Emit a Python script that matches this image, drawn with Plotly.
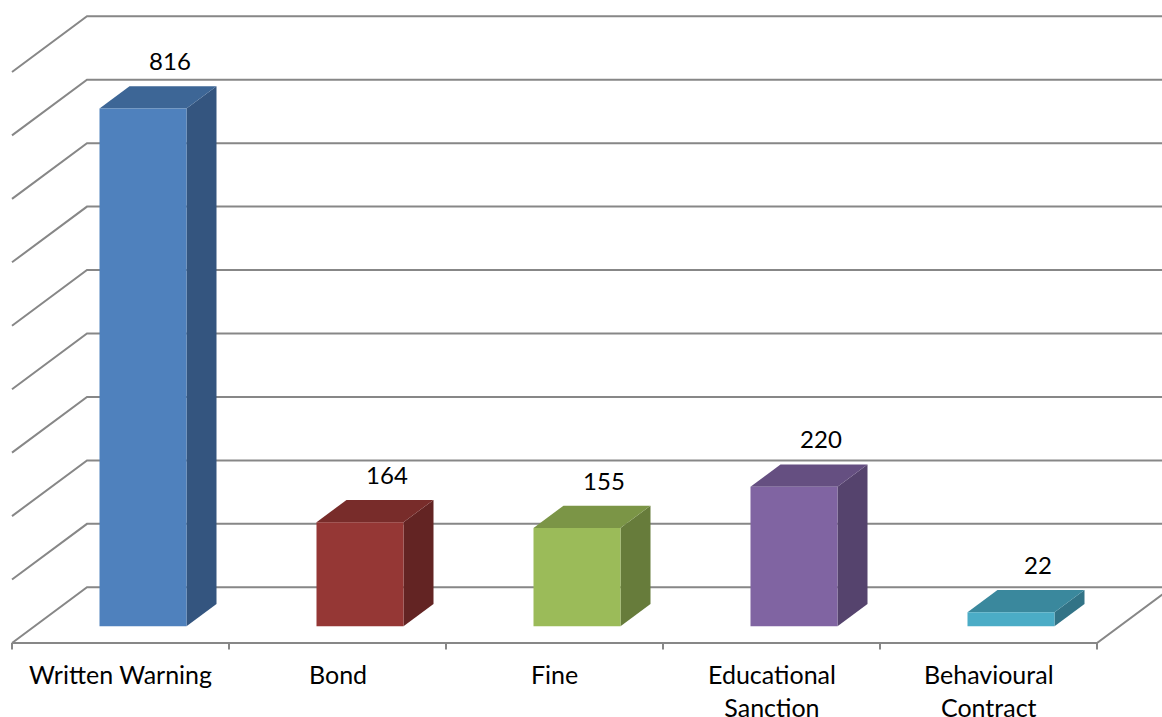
import plotly.graph_objects as go

# ---- data ----
categories = ["Written Warning", "Bond", "Fine", "Educational<br>Sanction", "Behavioural<br>Contract"]
values = [816, 164, 155, 220, 22]
grid_values = [0, 100, 200, 300, 400, 500, 600, 700, 800, 900]

# ---- styles ----
front_colors = ["#4F81BD", "#953735", "#9BBB59", "#8064A2", "#4BACC6"]
top_colors = ["#3D6696", "#782C2A", "#7B9546", "#654F81", "#3A889D"]
side_colors = ["#34557F", "#632423", "#677C3B", "#55436D", "#327386"]
grid_color = "#878787"
FONT = "Lato"

W, H = 1162, 717
# pixel geometry of the projection
AX = 217.0          # px per category unit
AY = 0.6345         # px per value unit
X_LEFT = 12.0       # pixel of x=-0.5
Y_FLOOR = 643.0     # pixel of front floor, value 0
DX = 75.0 / AX      # full depth offset in x units
DY = 55.7 / AY      # full depth offset in value units
D0, D1 = 0.30, 0.70 # bar depth extent (fraction of depth)
BW = 87.0 / AX      # bar width

xr = [-0.5 - X_LEFT / AX, -0.5 + (W - X_LEFT) / AX]
yr = [-(H - Y_FLOOR) / AY, Y_FLOOR / AY]
n = len(categories)

fig = go.Figure()

def line(xs, ys, width=2, color=grid_color):
    fig.add_trace(go.Scatter(x=xs, y=ys, mode="lines", line=dict(color=color, width=width),
                             hoverinfo="skip", showlegend=False))

# gridlines: left wall diagonal + back wall horizontal
for g in grid_values:
    line([-0.5, -0.5 + DX, xr[1] + 1], [g, g + DY, g + DY])

# floor front edge and right diagonal
line([-0.5, n - 0.5, n - 0.5 + DX], [0, 0, DY])
# tick marks
for i in range(n + 1):
    line([i - 0.5, i - 0.5], [0, -6.5 / AY])

def poly(xs, ys, color):
    fig.add_trace(go.Scatter(x=xs + [xs[0]], y=ys + [ys[0]], mode="lines", fill="toself",
                             fillcolor=color, line=dict(width=0, color=color),
                             hoverinfo="skip", showlegend=False))

for i, v in enumerate(values):
    xl = i - BW / 2
    xrt = i + BW / 2
    # side face
    poly([xrt + D0 * DX, xrt + D1 * DX, xrt + D1 * DX, xrt + D0 * DX],
         [D0 * DY, D1 * DY, v + D1 * DY, v + D0 * DY], side_colors[i])
    # top face
    poly([xl + D0 * DX, xrt + D0 * DX, xrt + D1 * DX, xl + D1 * DX],
         [v + D0 * DY, v + D0 * DY, v + D1 * DY, v + D1 * DY], top_colors[i])
    # front face
    poly([xl + D0 * DX, xrt + D0 * DX, xrt + D0 * DX, xl + D0 * DX],
         [D0 * DY, D0 * DY, v + D0 * DY, v + D0 * DY], front_colors[i])

# value labels
fig.add_trace(go.Scatter(
    x=[i + D1 * DX - 3 / AX for i in range(n)],
    y=[v + D1 * DY + 22 / AY for v in values],
    mode="text", text=[str(v) for v in values], textposition="middle center",
    textfont=dict(family=FONT, size=24, color="#000000"),
    hoverinfo="skip", showlegend=False, cliponaxis=False))

# category labels
for i, c in enumerate(categories):
    fig.add_annotation(x=i, y=-(657 - Y_FLOOR) / AY, text=c, showarrow=False,
                       xanchor="center", yanchor="top", align="center",
                       font=dict(family=FONT, size=25, color="#000000"))

fig.update_layout(
    width=W, height=H,
    margin=dict(l=0, r=0, t=0, b=0),
    paper_bgcolor="white", plot_bgcolor="white",
    xaxis=dict(range=xr, visible=False, fixedrange=True),
    yaxis=dict(range=yr, visible=False, fixedrange=True),
    showlegend=False,
)

fig.write_html("out.html")
